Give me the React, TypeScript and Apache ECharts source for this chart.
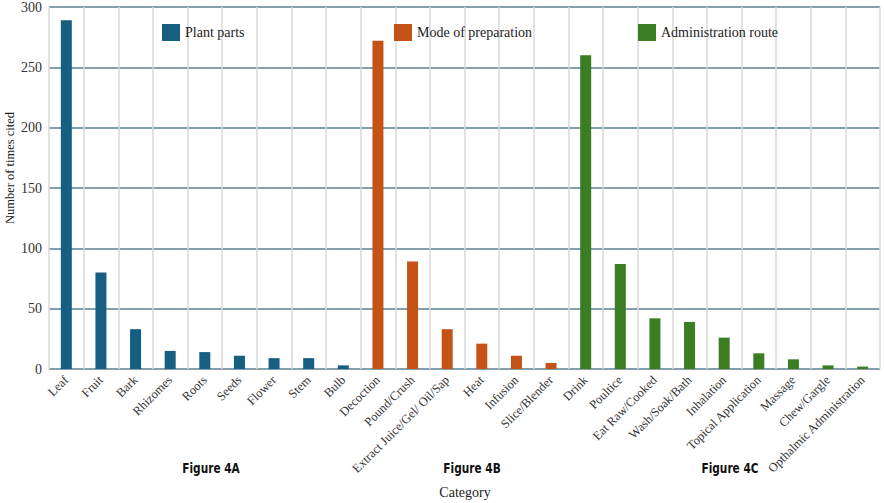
import React, { useEffect, useRef } from "react";
import * as echarts from "echarts";

const plantParts = ["Leaf", "Fruit", "Bark", "Rhizomes", "Roots", "Seeds", "Flower", "Stem", "Bulb"];
const plantValues = [289, 80, 33, 15, 14, 11, 9, 9, 3];
const prepModes = ["Decoction", "Pound/Crush", "Extract Juice/Gel/ Oil/Sap", "Heat", "Infusion", "Slice/Blender"];
const prepValues = [272, 89, 33, 21, 11, 5];
const routes = ["Drink", "Poultice", "Eat Raw/Cooked", "Wash/Soak/Bath", "Inhalation", "Topical Application", "Massage", "Chew/Gargle", "Opthalmic Administration"];
const routeValues = [260, 87, 42, 39, 26, 13, 8, 3, 2];
const yTicks = [0, 50, 100, 150, 200, 250, 300];

const seriesNames = ["Plant parts", "Mode of preparation", "Administration route"];
const colors = ["#165e82", "#c55216", "#3a7d22"];

export default function App() {
  const ref = useRef<HTMLDivElement>(null);
  useEffect(() => {
    if (!ref.current) return;
    const chart = echarts.init(ref.current, null, { renderer: "svg" });
    const categories = [...plantParts, ...prepModes, ...routes];
    const pad = (vals: number[], start: number) =>
      categories.map((_, i) => (i >= start && i < start + vals.length ? vals[i - start] : null));
    const groups = [
      pad(plantValues, 0),
      pad(prepValues, plantParts.length),
      pad(routeValues, plantParts.length + prepModes.length),
    ];
    const serif = "'Liberation Serif', 'Times New Roman', serif";
    const legendPos = [162, 394, 638];
    chart.setOption({
      animation: false,
      grid: { left: 49, right: 6, top: 6, bottom: 134, containLabel: false },
      legend: seriesNames.map((name, i) => ({
        data: [name],
        left: legendPos[i],
        top: 24,
        padding: 0,
        itemWidth: 18,
        itemHeight: 17,
        icon: "rect",
        selectedMode: false,
        textStyle: { fontFamily: serif, fontSize: 14, color: "#222" },
      })),
      xAxis: {
        type: "category",
        data: categories,
        boundaryGap: true,
        axisTick: { show: false },
        axisLine: { show: false },
        splitLine: { show: true, interval: 0, lineStyle: { color: "#d9d9d9", width: 1.5 } },
        axisLabel: {
          interval: 0,
          rotate: 45,
          margin: 9,
          fontFamily: serif,
          fontSize: 12.5,
          color: "#333",
        },
      },
      yAxis: {
        type: "value",
        min: 0,
        max: 300,
        interval: 50,
        axisLine: { show: false },
        axisTick: { show: false },
        splitLine: { lineStyle: { color: "#5a7f93", width: 1.5 } },
        axisLabel: {
          fontFamily: serif,
          fontSize: 14,
          color: "#333",
          margin: 7,
          customValues: yTicks,
        },
      },
      series: groups.map((data, i) => ({
        name: seriesNames[i],
        type: "bar",
        data,
        barWidth: 11,
        barGap: "-100%",
        itemStyle: { color: colors[i] },
      })),
      graphic: [
        {
          type: "text",
          x: 10,
          y: 168,
          rotation: Math.PI / 2,
          style: {
            text: "Number of times cited",
            font: `12.5px ${serif}`,
            fill: "#222",
            align: "center",
            verticalAlign: "middle",
          },
        },
        {
          type: "text",
          x: 465,
          y: 492,
          style: {
            text: "Category",
            font: `14px ${serif}`,
            fill: "#222",
            align: "center",
            verticalAlign: "middle",
          },
        },
        ...[
          ["Figure 4A", 211],
          ["Figure 4B", 472],
          ["Figure 4C", 730],
        ].map(([t, x]) => ({
          type: "text",
          x: x as number,
          y: 468,
          scaleX: 0.84,
          style: {
            text: t as string,
            font: "bold 14px 'DejaVu Sans Condensed', 'Liberation Sans Narrow', sans-serif",
            fill: "#111",
            align: "center",
            verticalAlign: "middle",
          },
        })),
      ],
    });
    return () => chart.dispose();
  }, []);
  return (
    <div
      ref={ref}
      style={{ position: "fixed", left: 0, top: 0, width: 886, height: 503, background: "#fff" }}
    />
  );
}
